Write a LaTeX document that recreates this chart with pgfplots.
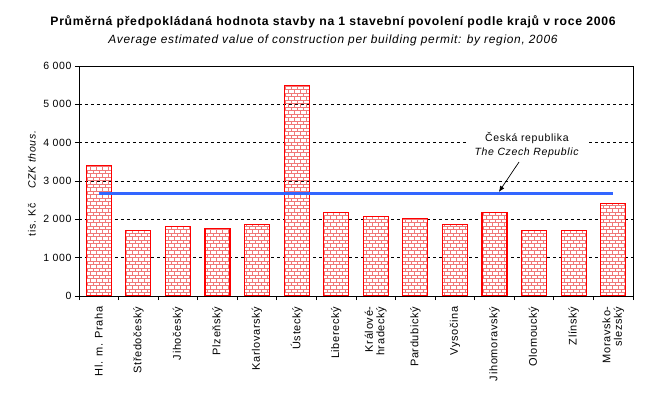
\documentclass[border=0pt]{standalone}
\usepackage{pgfplots}
\pgfplotsset{compat=1.18}
\usepackage{fontspec}
\setmainfont{Liberation Sans}[LetterSpace=6]
\usetikzlibrary{patterns,arrows.meta}
\definecolor{brick}{RGB}{240,120,120}
\definecolor{crblue}{RGB}{51,102,255}
\pgfdeclarepatternformonly{smallbricks}{\pgfqpoint{-0.5pt}{-0.5pt}}{\pgfqpoint{6.5pt}{7.5pt}}{\pgfqpoint{6pt}{7pt}}{%
  \pgfsetlinewidth{0.7pt}%
  \pgfpathmoveto{\pgfqpoint{0pt}{0pt}}\pgfpathlineto{\pgfqpoint{6pt}{0pt}}%
  \pgfpathmoveto{\pgfqpoint{0pt}{3.5pt}}\pgfpathlineto{\pgfqpoint{6pt}{3.5pt}}%
  \pgfpathmoveto{\pgfqpoint{0pt}{0pt}}\pgfpathlineto{\pgfqpoint{0pt}{3.5pt}}%
  \pgfpathmoveto{\pgfqpoint{3pt}{3.5pt}}\pgfpathlineto{\pgfqpoint{3pt}{7pt}}%
  \pgfusepath{stroke}}
\begin{document}
\begin{tikzpicture}
\path[use as bounding box] (0,0) rectangle (665pt,394pt);
\node[font=\fontsize{12.2}{14}\selectfont\bfseries] at (333pt,372pt) {Průměrná předpokládaná hodnota stavby na 1 stavební povolení podle krajů v roce 2006};
\node[font=\fontsize{11.9}{13}\selectfont\itshape] at (333pt,354pt) {Average estimated value of construction per building permit: by region, 2006};
\begin{axis}[
  at={(79pt,98pt)}, anchor=south west,
  scale only axis, width=554pt, height=230pt,
  xmin=-0.5, xmax=13.5, ymin=0, ymax=6000,
  ytick={0,1000,...,6000},
  /pgf/number format/assume math mode=true,
  /pgf/number format/1000 sep={\ },
  yticklabel style={font=\fontsize{10.5}{12}\selectfont},
  xtick={-0.5,0.5,...,13.5}, xticklabels={},
  extra x ticks={0,...,13},
  extra x tick labels={Hl. m. Praha,Středočeský,Jihočeský,Plzeňský,Karlovarský,Ústecký,Liberecký,Králové-\\hradecký,Pardubický,Vysočina,Jihomoravský,Olomoucký,Zlínský,Moravsko-\\slezský},
  extra x tick style={major tick length=0pt, grid=none,
    xticklabel style={rotate=90, anchor=east, align=right, font=\fontsize{11}{11.5}\selectfont}},
  xticklabel shift=7pt,
  tick pos=left, tick align=outside, major tick length=4pt,
  ymajorgrids, grid style={black, dash pattern=on 3pt off 3pt, line width=0.8pt},
  axis line style={black, line width=0.9pt},
  tick style={black, line width=0.9pt},
  ylabel={tis. Kč\hspace{15pt}\textit{CZK thous.}},
  ylabel style={at={(axis description cs:-0.085,0.49)}, anchor=center, font=\fontsize{10.5}{12}\selectfont},
]
\addplot[ybar, bar width=25pt, draw=red, line width=1.2pt, pattern=smallbricks, pattern color=brick] coordinates {
(0,3410) (1,1714) (2,1818) (3,1766) (4,1870) (5,5496) (6,2183) (7,2079) (8,2027) (9,1870) (10,2183) (11,1714) (12,1714) (13,2418)};
\addplot[crblue, line width=3pt, mark=none] coordinates {(0,2661) (13,2661)};
\node[fill=white, inner xsep=9pt, inner ysep=1pt, align=center, font=\fontsize{10.5}{14}\selectfont] at (axis cs:10.82,3940) {Česká republika\\\textit{The Czech Republic}};
\draw[-{Latex[length=6pt,width=5pt]}, line width=0.7pt] (axis cs:10.62,3496) -- (axis cs:10.11,2713);
\end{axis}
\end{tikzpicture}
\end{document}
